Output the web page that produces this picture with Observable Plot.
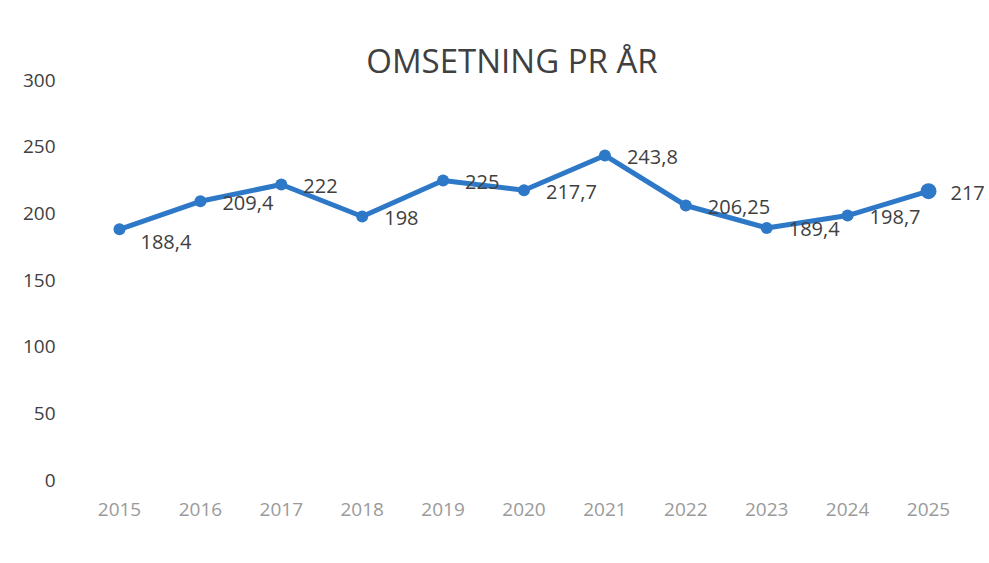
<!DOCTYPE html>
<html>
<head>
<meta charset="utf-8">
<script src="https://cdn.jsdelivr.net/npm/d3@7"></script>
<script src="https://cdn.jsdelivr.net/npm/@observablehq/plot@0.6"></script>
<style>
  html, body { margin: 0; padding: 0; background: #fff; }
  #wrap { position: relative; width: 989px; height: 563px; overflow: hidden; }
  #title { position: absolute; left: 0; width: 1024px; top: 38px; text-align: center;
           font-family: "Open Sans", sans-serif; font-size: 33px; color: #404040; }
  #chart { position: absolute; left: 0; top: 0; }
</style>
</head>
<body>
<div id="wrap">
  <div id="chart"></div>
  <div id="title">OMSETNING PR ÅR</div>
</div>
<script>
const years = [2015, 2016, 2017, 2018, 2019, 2020, 2021, 2022, 2023, 2024, 2025];
const values = [188.4, 209.4, 222, 198, 225, 217.7, 243.8, 206.25, 189.4, 198.7, 217];
const valueLabels = ["188,4", "209,4", "222", "198", "225", "217,7", "243,8", "206,25", "189,4", "198,7", "217"];
const yTicks = [0, 50, 100, 150, 200, 250, 300];

const data = years.map((y, i) => ({year: y, value: values[i], label: valueLabels[i], i}));
const last = data.length - 1;
const blue = "#2E78C8";

const chart = Plot.plot({
  width: 989,
  height: 563,
  marginLeft: 119,
  marginRight: 61,
  marginTop: 80,
  marginBottom: 83,
  style: {fontFamily: "Open Sans, sans-serif", background: "#fff"},
  x: {domain: [2015, 2025]},
  y: {domain: [0, 300]},
  marks: [
    Plot.axisY({ticks: yTicks, tickSize: 0, tickPadding: 64, fontSize: 19, label: null, color: "#404040"}),
    Plot.axisX({ticks: years, tickFormat: d => String(d), tickSize: 0, tickPadding: 22, fontSize: 19, label: null, color: "#9a9a9a"}),
    Plot.line(data, {x: "year", y: "value", stroke: blue, strokeWidth: 5, strokeLinejoin: "round"}),
    Plot.dot(data, {filter: d => d.i !== last, x: "year", y: "value", fill: blue, r: 6, stroke: "none"}),
    Plot.dot(data, {filter: d => d.i === last, x: "year", y: "value", fill: blue, r: 8, stroke: "none"}),
    Plot.text(data, {filter: d => d.i !== 0, x: "year", y: "value", text: "label", textAnchor: "start", dx: 22, dy: 2, fontSize: 20, fill: "#404040"}),
    Plot.text(data, {filter: d => d.i === 0, x: "year", y: "value", text: "label", textAnchor: "start", dx: 21, dy: 13, fontSize: 20, fill: "#404040"}),
  ]
});
document.getElementById("chart").appendChild(chart);
</script>
</body>
</html>
